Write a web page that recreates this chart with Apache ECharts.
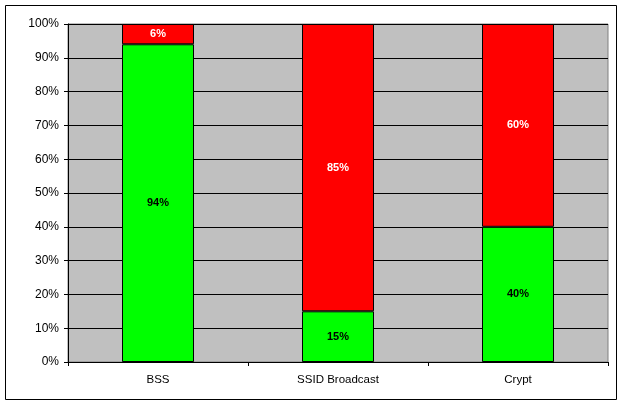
<!DOCTYPE html>
<html><head><meta charset="utf-8">
<script src="https://cdn.jsdelivr.net/npm/echarts@6/dist/echarts.min.js"></script>
<style>html,body{margin:0;padding:0;background:#fff}#c{width:623px;height:405px}</style>
</head><body><div id="c"></div>
<script>
const categories = ['BSS', 'SSID Broadcast', 'Crypt'];
const greenValues = [94, 15, 40];
const redValues = [6, 85, 60];

const chart = echarts.init(document.getElementById('c'), null, {renderer: 'canvas'});
const labelBase = {show: true, position: 'inside', fontFamily: 'Arial, "Liberation Sans"', fontWeight: 'bold', fontSize: 11, formatter: p => p.value + '%'};
chart.setOption({
  animation: false,
  backgroundColor: '#fff',
  graphic: [{type: 'rect', shape: {x: 5.5, y: 5.5, width: 611, height: 394}, style: {fill: 'none', stroke: '#000', lineWidth: 1}, z: -1}],
  grid: {left: 68, right: 15, top: 24, bottom: 43, show: true, backgroundColor: '#C0C0C0', borderColor: '#808080', borderWidth: 1},
  xAxis: {
    type: 'category', data: categories,
    axisLine: {lineStyle: {color: '#000', width: 1}},
    axisTick: {show: true, length: 4, lineStyle: {color: '#000'}},
    axisLabel: {color: '#000', fontFamily: 'Arial, "Liberation Sans"', fontSize: 11.5, margin: 12}
  },
  yAxis: {
    type: 'value', min: 0, max: 100, interval: 10,
    axisLine: {show: true, lineStyle: {color: '#000', width: 1}},
    axisTick: {show: true, length: 4, lineStyle: {color: '#000'}},
    axisLabel: {color: '#000', fontFamily: 'Arial, "Liberation Sans"', fontSize: 12, margin: 9, formatter: '{value}%'},
    splitLine: {show: true, lineStyle: {color: '#000', width: 1}}
  },
  series: [
    {type: 'bar', stack: 's', data: greenValues, barWidth: '40%',
     itemStyle: {color: '#00FF00', borderColor: '#000', borderWidth: 1},
     label: Object.assign({}, labelBase, {color: '#000'})},
    {type: 'bar', stack: 's', data: redValues, barWidth: '40%',
     itemStyle: {color: '#FF0000', borderColor: '#000', borderWidth: 1},
     label: Object.assign({}, labelBase, {color: '#fff'})}
  ]
});
</script></body></html>
